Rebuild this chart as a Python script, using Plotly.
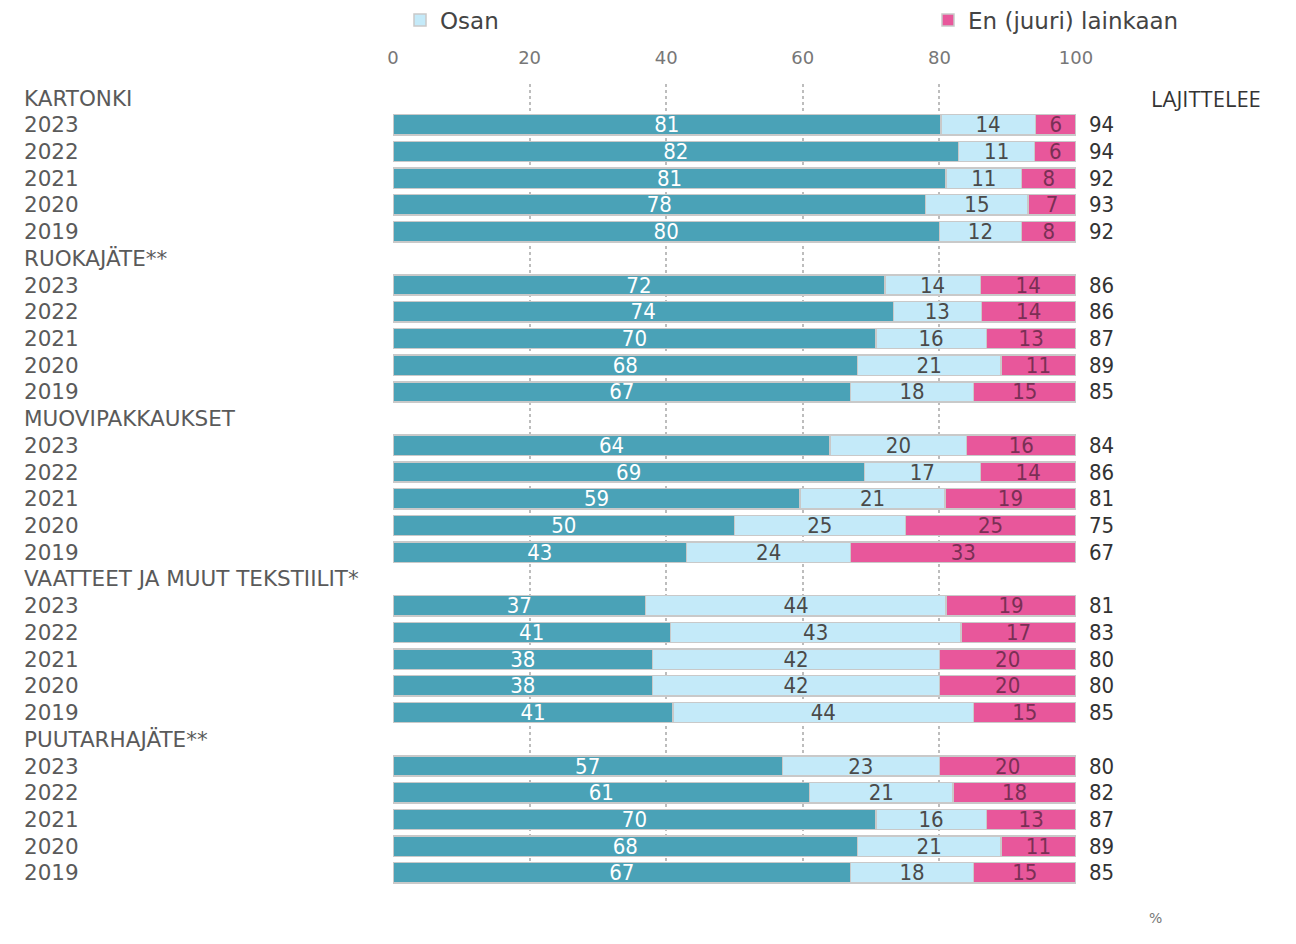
import plotly.graph_objects as go

groups = ["KARTONKI", "RUOKAJÄTE**", "MUOVIPAKKAUKSET", "VAATTEET JA MUUT TEKSTIILIT*", "PUUTARHAJÄTE**"]
years = ["2023", "2022", "2021", "2020", "2019"]

kaikki = [81, 82, 81, 78, 80,
          72, 74, 70, 68, 67,
          64, 69, 59, 50, 43,
          37, 41, 38, 38, 41,
          57, 61, 70, 68, 67]
osan = [14, 11, 11, 15, 12,
        14, 13, 16, 21, 18,
        20, 17, 21, 25, 24,
        44, 43, 42, 42, 44,
        23, 21, 16, 21, 18]
en_lainkaan = [6, 6, 8, 7, 8,
               14, 14, 13, 11, 15,
               16, 14, 19, 25, 33,
               19, 17, 20, 20, 15,
               20, 18, 13, 11, 15]
lajittelee = [94, 94, 92, 93, 92,
              86, 86, 87, 89, 85,
              84, 86, 81, 75, 67,
              81, 83, 80, 80, 85,
              80, 82, 87, 89, 85]

series_names = ["Kaikki", "Osan", "En (juuri) lainkaan"]
colors = ["#4aa2b7", "#c4eaf9", "#e8579b"]
text_colors = ["#ffffff", "#4a4a4a", "#7a2f55"]
legend_ids = [None, "legend", "legend2"]

# row positions: each group has a header row followed by the year rows
rows_y = []
labels = []
label_y = []
r = 0
for g in groups:
    labels.append(g)
    label_y.append(r)
    r += 1
    for yv in years:
        labels.append(yv)
        label_y.append(r)
        rows_y.append(r)
        r += 1

# page body has an 8px margin: work in figure pixel coordinates
OFF = 8
W, H = 1296 - OFF, 944 - OFF
L, R = 393 - OFF, 1076 - OFF
plot_w = R - L
top_px, bot_px = 84 - OFF, 884 - OFF
row0_px, step = 98 - OFF, 26.72
r_top = (top_px - row0_px) / step
r_bot = (bot_px - row0_px) / step


def px_x(p):
    return (p - OFF - L) / plot_w


def px_y(p):
    return (bot_px - (p - OFF)) / (bot_px - top_px)


totals = [a + b + c for a, b, c in zip(kaikki, osan, en_lainkaan)]
fig = go.Figure()
for name, vals, col, tcol, lg in zip(series_names, [kaikki, osan, en_lainkaan], colors, text_colors, legend_ids):
    widths = [v / t * 100 for v, t in zip(vals, totals)]
    fig.add_trace(go.Bar(
        x=widths, y=rows_y, orientation="h", name=name,
        marker=dict(color=col, line=dict(color="#c9c9c9", width=1.5)),
        text=[str(v) for v in vals], textposition="inside", insidetextanchor="middle",
        textangle=0, constraintext="none",
        textfont=dict(family="Liberation Sans Narrow, DejaVu Sans Condensed, sans-serif", size=22, color=tcol),
        showlegend=lg is not None, legend=lg or "legend", width=0.76, hoverinfo="skip",
    ))

annotations = []
for lab, yv in zip(labels, label_y):
    annotations.append(dict(x=px_x(22), xref="paper", y=yv, yref="y", text=lab, showarrow=False,
                            xanchor="left", yanchor="middle",
                            font=dict(family="DejaVu Sans, sans-serif", size=21.5, color="#5a5a5a")))
for t, yv in zip(lajittelee, rows_y):
    annotations.append(dict(x=px_x(1087), xref="paper", y=yv, yref="y", text=str(t), showarrow=False,
                            xanchor="left", yanchor="middle",
                            font=dict(family="Liberation Sans Narrow, DejaVu Sans Condensed, sans-serif",
                                      size=22, color="#333333")))

annotations.append(dict(x=px_x(1149), xref="paper", y=0, yref="y", text="LAJITTELEE",
                        showarrow=False, xanchor="left", yanchor="middle",
                        font=dict(family="Open Sans, sans-serif", size=22, color="#333333")))
annotations.append(dict(x=px_x(1155), xref="paper", y=px_y(918), yref="paper",
                        text="%", showarrow=False, xanchor="center", yanchor="middle",
                        font=dict(family="DejaVu Sans, sans-serif", size=14, color="#777777")))

legend_font = dict(family="DejaVu Sans, sans-serif", size=23, color="#444444")
fig.update_layout(
    width=W, height=H, barmode="stack",
    margin=dict(l=L, r=W - R, t=top_px, b=H - bot_px, autoexpand=False),
    paper_bgcolor="white", plot_bgcolor="white",
    xaxis=dict(range=[0, 100], side="top", tickvals=[0, 20, 40, 60, 80, 100],
               showgrid=True, gridcolor="#bdbdbd", griddash="dot", gridwidth=1.5,
               zeroline=False, showline=False,
               ticks="outside", ticklen=12, tickcolor="rgba(0,0,0,0)",
               tickfont=dict(family="DejaVu Sans, sans-serif", size=18, color="#777777")),
    yaxis=dict(range=[r_bot, r_top], showticklabels=False, showgrid=False, zeroline=False,
               showline=False),
    legend=dict(orientation="h", xref="container", x=(400 - OFF) / W, xanchor="left",
                yref="container", y=1 - (20 - OFF) / H, yanchor="middle",
                font=legend_font, itemwidth=30),
    legend2=dict(orientation="h", xref="container", x=(928 - OFF) / W, xanchor="left",
                 yref="container", y=1 - (20 - OFF) / H, yanchor="middle",
                 font=legend_font, itemwidth=30),
    annotations=annotations,
)

fig.write_html("out.html")
